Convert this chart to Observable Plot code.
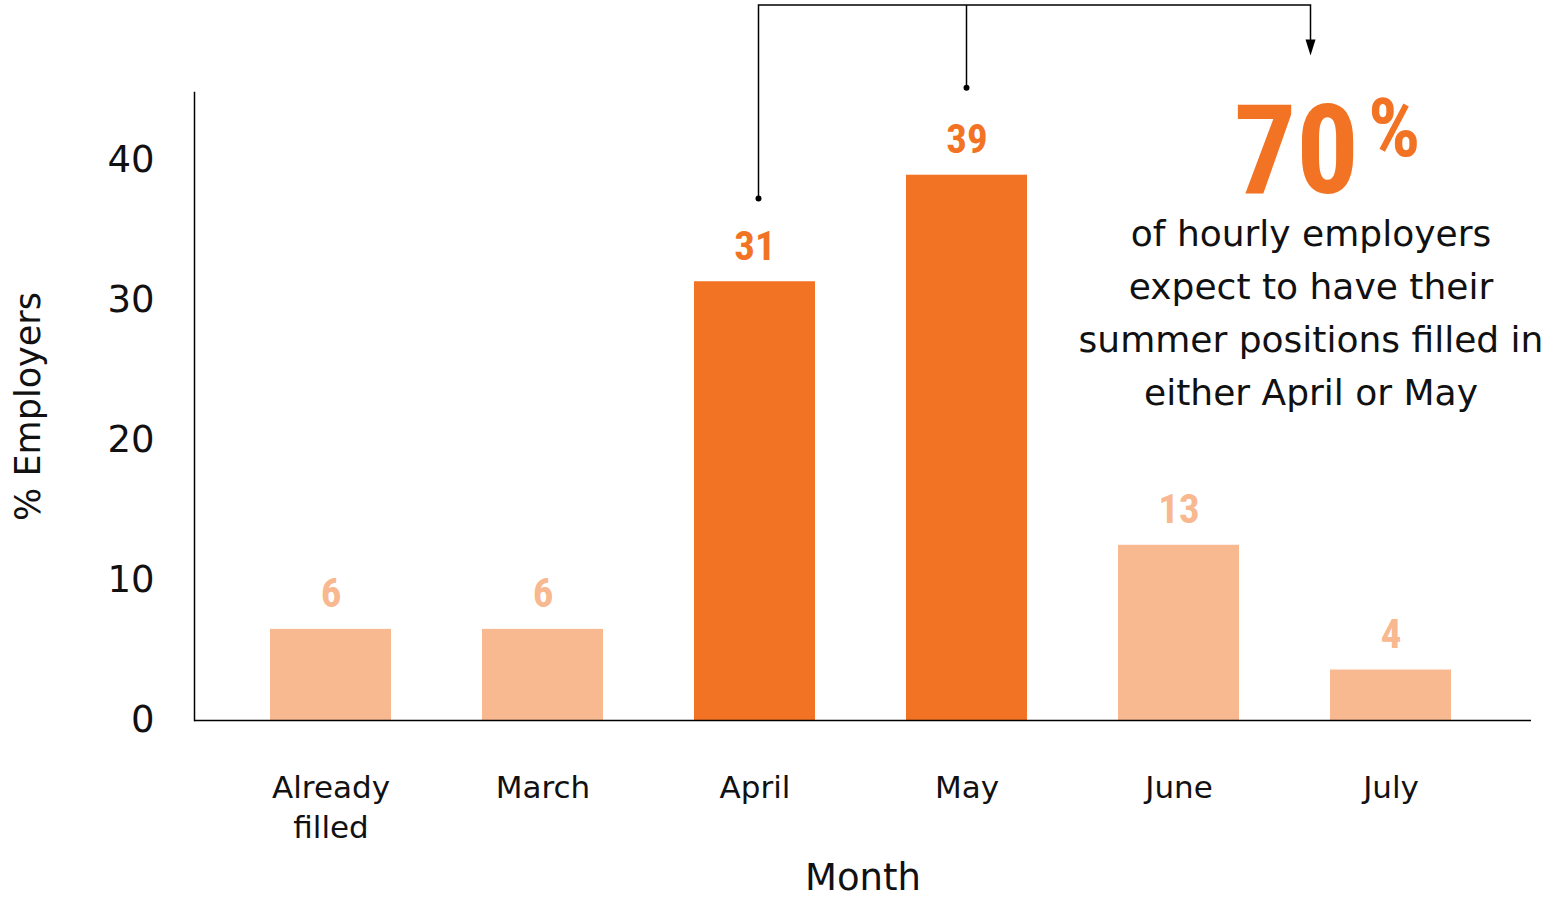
<!DOCTYPE html>
<html>
<head>
<meta charset="utf-8">
<script src="https://cdn.jsdelivr.net/npm/d3@7"></script>
<script src="https://cdn.jsdelivr.net/npm/@observablehq/plot@0.6"></script>
<style>
  html, body { margin: 0; padding: 0; background: #fff; }
  #chart svg { display: block; }
</style>
</head>
<body>
<div id="chart"></div>
<script>
// ---- data ----
const months = ["Already filled", "March", "April", "May", "June", "July"];
const values = [6.5, 6.5, 31.3, 38.9, 12.5, 3.6];
const valueLabels = ["6", "6", "31", "39", "13", "4"];
const highlighted = ["April", "May"];
const yTicks = [0, 10, 20, 30, 40];
const bigNumber = "70";
const bigSymbol = "%";
const annotationLines = ["of hourly employers", "expect to have their", "summer positions filled in", "either April or May"];
// bracket levels (in % units on the y scale)
const bracketTop = 51.0, aprilDot = 37.2, mayDot = 45.1, arrowTip = 47.4;

const DARK = "#F37324";
const LIGHT = "#F8B890";
const data = months.map((m, i) => ({month: m, value: values[i], label: valueLabels[i], hi: highlighted.includes(m)}));
const ANNOT_AT = "June", ANNOT_DX = 132;

const TEXT_FONT = "DejaVu Sans";
const NUM_FONT = "'Liberation Sans Narrow', 'Roboto Condensed', 'Arial Narrow', sans-serif";

const plot = Plot.plot({
  width: 1551,
  height: 898,
  marginLeft: 194,
  marginRight: 20,
  marginTop: 92,
  marginBottom: 178,
  style: {fontFamily: TEXT_FONT, color: "#111", background: "#fff", overflow: "visible"},
  x: {domain: months, paddingInner: 0.43, paddingOuter: 0.365, align: 0.484},
  y: {domain: [0, 44.8]},
  marks: [
    Plot.barY(data, {x: "month", y: "value", fill: d => d.hi ? DARK : LIGHT}),
    Plot.text(data, {x: "month", y: "value", text: "label", fill: d => d.hi ? DARK : LIGHT,
      lineAnchor: "bottom", dy: -22, fontSize: 41, fontWeight: "bold", fontFamily: NUM_FONT}),
    Plot.ruleY([0], {stroke: "#000", strokeWidth: 1.5}),
    Plot.frame({anchor: "left", stroke: "#000", strokeWidth: 1.5}),
    Plot.axisY({ticks: yTicks, tickSize: 0, tickPadding: 40, fontSize: 37, label: null, tickFormat: d => String(d)}),
    Plot.axisX({tickSize: 0, tickPadding: 49, fontSize: 31, lineHeight: 1.29, label: null,
      tickFormat: d => d === "Already filled" ? "Already\nfilled" : d}),
    Plot.text(["% Employers"], {text: d => d, frameAnchor: "left", dx: -166, rotate: -90, fontSize: 35,
      textAnchor: "middle", lineAnchor: "middle"}),
    Plot.text(["Month"], {text: d => d, frameAnchor: "bottom", dy: 158, fontSize: 37, lineAnchor: "middle"}),
    // annotation
    Plot.text([bigNumber], {text: d => d, x: () => ANNOT_AT, y: () => 37.6, dx: ANNOT_DX + 48, textAnchor: "end",
      lineAnchor: "bottom", fontSize: 124, fontWeight: "bold", fontFamily: NUM_FONT, fill: DARK}),
    Plot.text([bigSymbol], {text: d => d, x: () => ANNOT_AT, y: () => 40.3, dx: ANNOT_DX + 57, textAnchor: "start",
      lineAnchor: "bottom", fontSize: 82, fontWeight: "bold", fontFamily: NUM_FONT, fill: DARK}),
    Plot.text([annotationLines.join("\n")], {text: d => d, x: () => ANNOT_AT, y: () => 36.5, dx: ANNOT_DX,
      lineAnchor: "top", fontSize: 36, lineHeight: 53 / 36, fill: "#111"})
  ]
});

// bracket connecting April and May to the annotation, positioned with the plot's scales
const sx = plot.scale("x"), sy = plot.scale("y");
const cx = m => sx.apply(m) + sx.bandwidth / 2;
const xA = cx("April") + 4, xM = cx("May"), xR = cx(ANNOT_AT) + ANNOT_DX;
const yT = sy.apply(bracketTop);
const g = d3.select(plot).append("g").attr("fill", "none").attr("stroke", "#000").attr("stroke-width", 1.5);
g.append("path").attr("d", `M${xA},${sy.apply(aprilDot)}V${yT}H${xR}V${sy.apply(arrowTip) - 14}`);
g.append("path").attr("d", `M${xM},${sy.apply(mayDot)}V${yT}`);
const tip = sy.apply(arrowTip);
d3.select(plot).append("path").attr("fill", "#000")
  .attr("d", `M${xR - 5},${tip - 16}L${xR + 5},${tip - 16}L${xR},${tip}Z`);
d3.select(plot).append("circle").attr("cx", xA).attr("cy", sy.apply(aprilDot)).attr("r", 3).attr("fill", "#000");
d3.select(plot).append("circle").attr("cx", xM).attr("cy", sy.apply(mayDot)).attr("r", 3).attr("fill", "#000");

document.getElementById("chart").appendChild(plot);
</script>
</body>
</html>
